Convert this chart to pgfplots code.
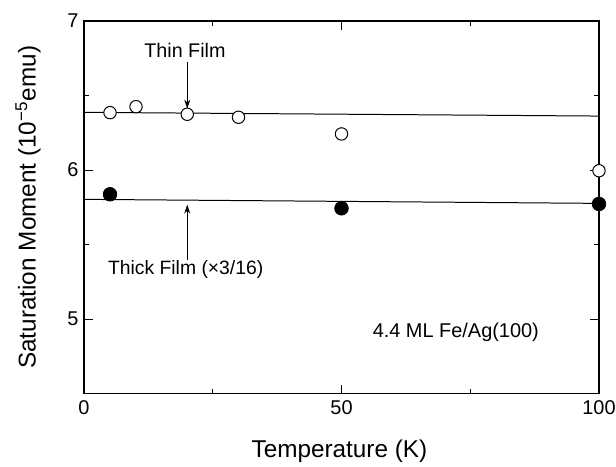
\documentclass[border=0pt]{standalone}
\usepackage{fontspec}
\setmainfont{Liberation Sans}
\usepackage{pgfplots}
\pgfplotsset{compat=1.18}
\usetikzlibrary{arrows.meta}
\begin{document}
\begin{tikzpicture}
\begin{axis}[
  at={(0,0)}, anchor=south west,
  scale only axis,
  width=257.5bp, height=186.25bp,
  xmin=0, xmax=100, ymin=4.5, ymax=7,
  xtick={0,50,100}, ytick={5,6,7},
  minor xtick={25,75}, minor ytick={5.5,6.5},
  tick align=inside,
  major tick length=4.5bp, minor tick length=2.5bp,
  tick style={black, line width=0.5pt},
  axis line style={line width=0.75pt},
  /pgf/number format/assume math mode=true,
  ticklabel style={font=\fontsize{10}{12}\selectfont},
  xticklabel style={anchor=center, yshift=-7.25bp},
  yticklabel style={anchor=center, xshift=-5.5bp},
  xlabel={Temperature (K)},
  ylabel={Saturation Moment (10\textsuperscript{−5}emu)},
  label style={font=\fontsize{12.2}{14}\selectfont},
  xlabel style={at={(axis description cs:0.496,-0.156)}, anchor=center},
  ylabel style={at={(axis description cs:-0.1087,0.5)}, anchor=center},
  clip=false,
]
\addplot[black, line width=0.5pt] coordinates {(0,6.387) (100,6.362)};
\addplot[black, line width=0.5pt] coordinates {(0,5.803) (100,5.776)};
\addplot[only marks, mark=*, mark size=3.1bp, mark options={fill=white, draw=black, line width=0.5pt}] coordinates {
  (5.05,6.385) (10.1,6.425) (20.05,6.374) (30.0,6.354) (50.0,6.242) (100,5.995)};
\addplot[only marks, mark=*, mark size=3.4bp, mark options={fill=black, draw=black}] coordinates {
  (5.05,5.837) (50.0,5.743) (100,5.772)};
\draw[-{Stealth[length=4.5bp,width=3bp]}, line width=0.4pt] (axis cs:20.05,6.727) -- (axis cs:20.05,6.412);
\draw[-{Stealth[length=4.5bp,width=3bp]}, line width=0.4pt] (axis cs:20.05,5.396) -- (axis cs:20.05,5.768);
\node[font=\fontsize{9.9}{12}\selectfont] at (axis cs:19.6,6.805) {Thin Film};
\node[font=\fontsize{9.7}{12}\selectfont] at (axis cs:19.75,5.329) {Thick Film (×3/16)};
\node[font=\fontsize{10}{12}\selectfont] at (axis cs:72.2,4.908) {4.4 ML Fe/Ag(100)};
\end{axis}
\pgfresetboundingbox
\path[use as bounding box] (-42bp,-36.75bp) rectangle (266bp,196.75bp);
\end{tikzpicture}
\end{document}
